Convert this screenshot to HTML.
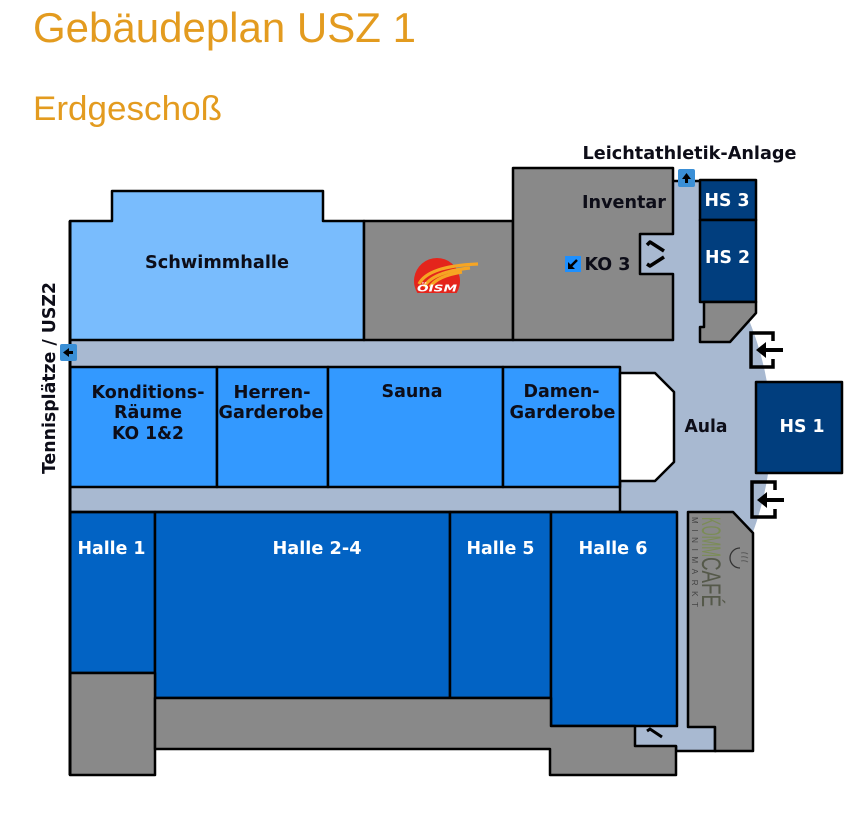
<!DOCTYPE html>
<html>
<head>
<meta charset="utf-8">
<style>
html,body{margin:0;padding:0;background:#fff;}
svg{display:block;}
.lbl{font-family:"DejaVu Sans","Liberation Sans",sans-serif;font-weight:bold;font-size:18px;fill:#0d0d18;}
.wl{font-family:"DejaVu Sans","Liberation Sans",sans-serif;font-weight:bold;font-size:18px;fill:#ffffff;}
</style>
</head>
<body>
<svg width="864" height="815" viewBox="0 0 864 815" xmlns="http://www.w3.org/2000/svg">
<rect x="0" y="0" width="864" height="815" fill="#fff"/>

<!-- Titles -->
<text x="33" y="42" font-family="Liberation Sans, Arial, sans-serif" font-size="42" fill="#e39b1f">Gebäudeplan USZ 1</text>
<text x="33" y="120" font-family="Liberation Sans, Arial, sans-serif" font-size="34" fill="#e39b1f" textLength="189" lengthAdjust="spacingAndGlyphs">Erdgeschoß</text>

<!-- Light blue corridors / aula base -->
<path d="M70,340 H673 V181 H700 V302 H750 L749,320 Q792,427 752,535 L752,540 L688,540 L688,727 L715,727 L715,751 L635,751 L635,512 L70,512 Z" fill="#a8b9d1"/>
<rect x="635" y="232" width="40" height="44" fill="#a8b9d1"/>
<path d="M676,746 V751 H715 V727" fill="none" stroke="#000" stroke-width="2.5"/>

<g stroke="#000" stroke-width="2.5" stroke-linejoin="round">
<polygon points="70,221 112,221 112,191 323,191 323,221 364,221 364,340 70,340" fill="#79bcfd"/>
<rect x="364" y="221" width="149" height="119" fill="#898989"/>
<polygon points="513,168 673,168 673,234 640,234 640,274 673,274 673,340 513,340" fill="#898989"/>
<rect x="700" y="180" width="56" height="40" fill="#013e7e"/>
<rect x="700" y="220" width="56" height="82" fill="#013e7e"/>
<polygon points="704,302 756,302 756,313 730,342 700,342 700,327 704,327" fill="#898989"/>
<rect x="70" y="367" width="147" height="120" fill="#3399ff"/>
<rect x="217" y="367" width="111" height="120" fill="#3399ff"/>
<rect x="328" y="367" width="175" height="120" fill="#3399ff"/>
<rect x="503" y="367" width="117" height="120" fill="#3399ff"/>
<polygon points="620,373 655,373 674,392 674,462 655,481 620,481" fill="#fff"/>
<rect x="756" y="382" width="86" height="91" fill="#013e7e"/>
<rect x="70" y="512" width="85" height="161" fill="#0263c4"/>
<rect x="155" y="512" width="295" height="186" fill="#0263c4"/>
<rect x="450" y="512" width="101" height="186" fill="#0263c4"/>
<rect x="551" y="512" width="126" height="214" fill="#0263c4"/>
<rect x="70" y="673" width="85" height="102" fill="#898989"/>
<polygon points="155,698 551,698 551,726 635,726 635,746 676,746 676,775 550,775 550,749 155,749" fill="#898989"/>
<polygon points="688,512 733,512 753,533 753,751 715,751 715,727 688,727" fill="#898989"/>
</g>

<!-- walls -->
<line x1="70" y1="221" x2="70" y2="775" stroke="#000" stroke-width="3"/>
<line x1="620" y1="481" x2="620" y2="512" stroke="#000" stroke-width="2.5"/>
<line x1="673" y1="181" x2="700" y2="181" stroke="#000" stroke-width="2.5"/>
<line x1="70" y1="512" x2="677" y2="512" stroke="#000" stroke-width="2.5"/>

<!-- top icon (up arrow) -->
<rect x="678" y="169" width="17" height="18" rx="2" fill="#3a8fd6"/>
<path d="M686.5,173 L682,179 L685,179 L685,183 L688,183 L688,179 L691,179 Z" fill="#000"/>

<!-- left icon (left arrow) -->
<rect x="60" y="344" width="17" height="17" rx="2" fill="#3a8fd6"/>
<path d="M63,352.5 L69,348 L69,351 L73,351 L73,354 L69,354 L69,357 Z" fill="#000"/>

<!-- KO3 icon -->
<rect x="565" y="256" width="16" height="16" fill="#1e90ff"/>
<path d="M577,260 L571,266" stroke="#000" stroke-width="2.5"/>
<path d="M568,269 L568,262 L575,269 Z" fill="#000"/>

<!-- stairs in notch -->
<path d="M647,245 L650,242 L664,251" fill="none" stroke="#000" stroke-width="3.5" stroke-linejoin="round"/>
<path d="M664,257 L650,266 L647,264" fill="none" stroke="#000" stroke-width="3.5" stroke-linejoin="round"/>
<!-- small stair bottom -->
<path d="M647,731 L650,729 L662,737" fill="none" stroke="#000" stroke-width="3"/>

<!-- Entrances -->
<path d="M773,341 V333 H751 V367 H773 V359" fill="none" stroke="#000" stroke-width="3.5"/>
<line x1="783" y1="350" x2="763" y2="350" stroke="#000" stroke-width="4"/>
<polygon points="756,350 766,342 766,358" fill="#000"/>
<path d="M775,490 V482 H752 V517 H775 V509" fill="none" stroke="#000" stroke-width="3.5"/>
<line x1="784" y1="500" x2="764" y2="500" stroke="#000" stroke-width="4"/>
<polygon points="757,500 767,492 767,508" fill="#000"/>

<!-- OISM logo -->
<path d="M417.4,293 A23,23 0 1 1 456.6,293 Z" fill="#e4251c"/>
<path d="M419,284 Q428,266 478,264" fill="none" stroke="#f6a523" stroke-width="3.2"/>
<path d="M424,287 Q432,272 470,268" fill="none" stroke="#f6a523" stroke-width="3.2"/>
<path d="M430,287 Q437,276 462,272" fill="none" stroke="#f6a523" stroke-width="3.2"/>
<text x="437" y="291.5" text-anchor="middle" font-family="DejaVu Sans, sans-serif" font-weight="bold" font-style="italic" font-size="9.5" fill="#fff" textLength="40" lengthAdjust="spacingAndGlyphs">ÖISM</text>

<!-- Cafe text -->
<text transform="translate(702,517) rotate(90)" font-family="Liberation Sans, sans-serif" font-size="27" fill="#7b8c56" textLength="40" lengthAdjust="spacingAndGlyphs">KOMM</text>
<text transform="translate(702,557) rotate(90)" font-family="Liberation Sans, sans-serif" font-size="27" fill="#55594a" textLength="50" lengthAdjust="spacingAndGlyphs">CAFÉ</text>
<text transform="translate(692,517) rotate(90)" font-family="Liberation Sans, sans-serif" font-size="8" fill="#444" textLength="90" lengthAdjust="spacing">MINIMARKT</text>
<path d="M740,548 A10,10 0 0 0 740,568" fill="none" stroke="#333" stroke-width="1.3"/>
<path d="M741,553 Q745,552 748,554 M741,557 Q745,556 748,558 M741,561 Q745,560 748,562" fill="none" stroke="#555" stroke-width="0.9"/>

<!-- Labels -->
<text class="lbl" x="689.5" y="159" text-anchor="middle" textLength="214" lengthAdjust="spacingAndGlyphs">Leichtathletik-Anlage</text>
<text class="lbl" x="217" y="268" text-anchor="middle" textLength="144" lengthAdjust="spacingAndGlyphs">Schwimmhalle</text>
<text class="lbl" x="624" y="208" text-anchor="middle" textLength="84" lengthAdjust="spacingAndGlyphs">Inventar</text>
<text class="lbl" x="607.5" y="270" text-anchor="middle" textLength="46" lengthAdjust="spacingAndGlyphs">KO 3</text>
<text class="wl" x="727" y="206" text-anchor="middle" textLength="45" lengthAdjust="spacingAndGlyphs">HS 3</text>
<text class="wl" x="727.5" y="263" text-anchor="middle" textLength="45" lengthAdjust="spacingAndGlyphs">HS 2</text>
<text class="wl" x="802" y="432" text-anchor="middle" textLength="45" lengthAdjust="spacingAndGlyphs">HS 1</text>
<text class="lbl" x="706" y="432" text-anchor="middle" textLength="43" lengthAdjust="spacingAndGlyphs">Aula</text>
<text class="lbl" x="148" y="398" text-anchor="middle" textLength="113" lengthAdjust="spacingAndGlyphs">Konditions-</text>
<text class="lbl" x="148" y="418" text-anchor="middle" textLength="68" lengthAdjust="spacingAndGlyphs">Räume</text>
<text class="lbl" x="148" y="439" text-anchor="middle" textLength="72" lengthAdjust="spacingAndGlyphs">KO 1&amp;2</text>
<text class="lbl" x="272" y="398" text-anchor="middle" textLength="77" lengthAdjust="spacingAndGlyphs">Herren-</text>
<text class="lbl" x="271" y="418" text-anchor="middle" textLength="105" lengthAdjust="spacingAndGlyphs">Garderobe</text>
<text class="lbl" x="412" y="397" text-anchor="middle" textLength="61" lengthAdjust="spacingAndGlyphs">Sauna</text>
<text class="lbl" x="561.5" y="397" text-anchor="middle" textLength="76" lengthAdjust="spacingAndGlyphs">Damen-</text>
<text class="lbl" x="562.5" y="418" text-anchor="middle" textLength="106" lengthAdjust="spacingAndGlyphs">Garderobe</text>
<text class="wl" x="111.5" y="554" text-anchor="middle" textLength="68" lengthAdjust="spacingAndGlyphs">Halle 1</text>
<text class="wl" x="317" y="554" text-anchor="middle" textLength="89" lengthAdjust="spacingAndGlyphs">Halle 2-4</text>
<text class="wl" x="500.5" y="554" text-anchor="middle" textLength="68" lengthAdjust="spacingAndGlyphs">Halle 5</text>
<text class="wl" x="613" y="554" text-anchor="middle" textLength="69" lengthAdjust="spacingAndGlyphs">Halle 6</text>
<text class="lbl" transform="translate(55,378) rotate(-90)" text-anchor="middle" textLength="192" lengthAdjust="spacingAndGlyphs">Tennisplätze / USZ2</text>
</svg>
</body>
</html>
